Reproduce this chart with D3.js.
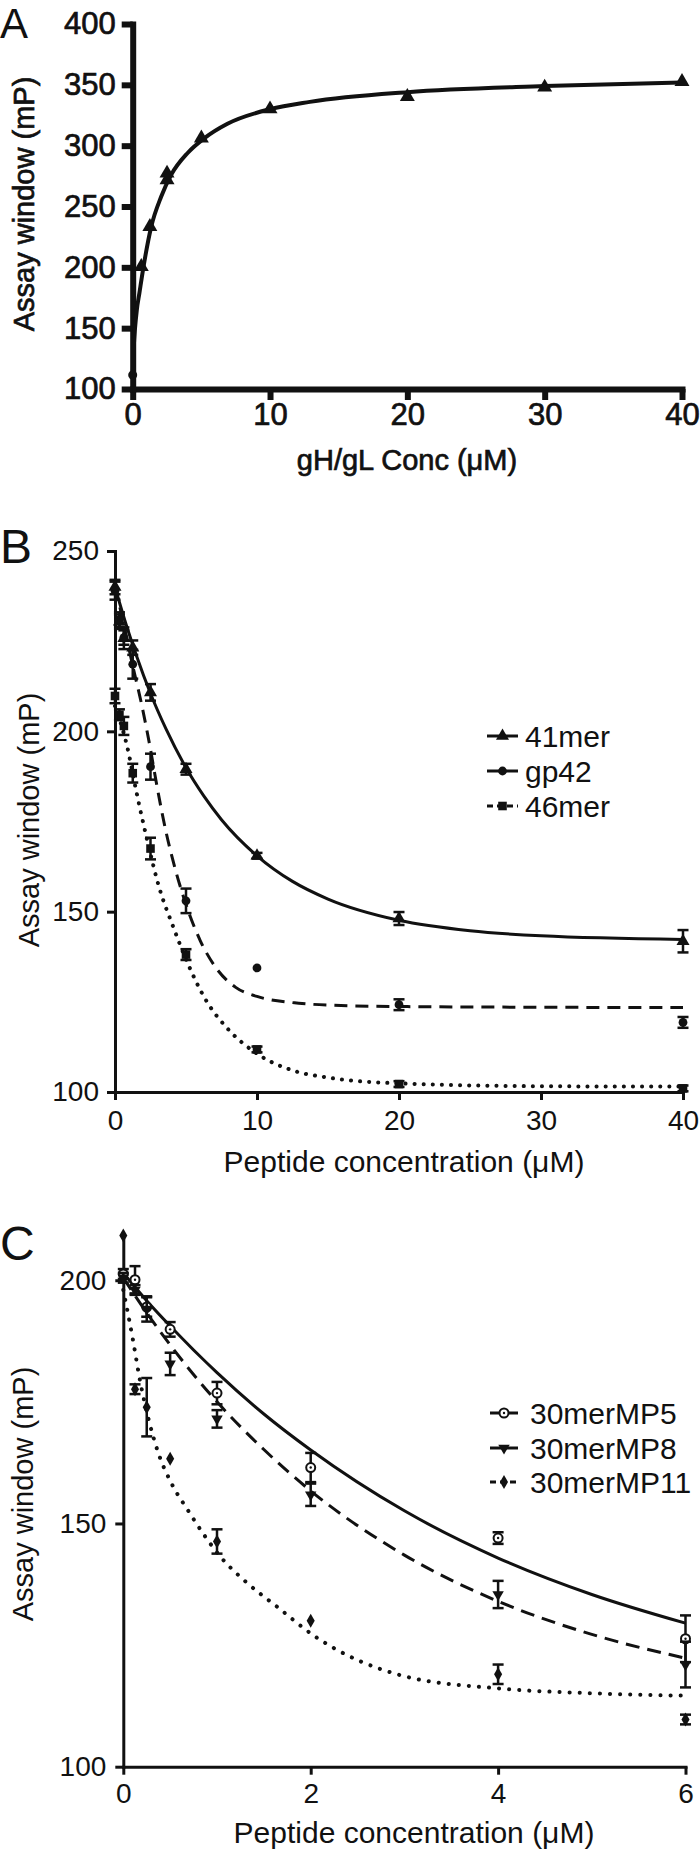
<!DOCTYPE html>
<html>
<head>
<meta charset="utf-8">
<script src="https://cdn.jsdelivr.net/npm/d3@7"></script>
<style>
  body { margin: 0; background: #fff; }
  svg { display: block; font-family: "Liberation Sans", Arial, Helvetica, sans-serif; }
  text { font-family: "Liberation Sans", Arial, Helvetica, sans-serif; fill: #111; }
  .heavy text, text.heavy { stroke: #111; stroke-width: 0.7px; }
</style>
</head>
<body>
<div id="fig"></div>
<script>
// ---- panel A: gH/gL titration ----
var aConc   = [0, 0.625, 1.25, 2.5, 2.5, 5, 10, 20, 30, 40];
var aWindow = [111.5, 200.5, 233.4, 277.3, 271.8, 306.1, 330.1, 340.3, 348, 352.6];
var aFitConc   = [0, 0.08, 0.17, 0.3, 0.49, 0.78, 1.34, 2.07, 2.8, 4, 5.2, 6.9, 10, 12.9, 20, 30, 40];
var aFitWindow = [111.5, 135, 150, 165, 179, 200, 233, 258, 276, 294, 306, 318, 330, 336, 344, 349, 352];
var aYTicks = [100, 150, 200, 250, 300, 350, 400];
var aXTicks = [0, 10, 20, 30, 40];

// ---- panel B: peptide competition ----
var bConc = [0, 0.3125, 0.625, 1.25, 2.5, 5, 10, 20, 40];
var b41mer    = [240, 230.4, 225.8, 223.2, 210.8, 189.5, 165.5, 148.1, 141.8];
var b41merErr = [2, 2, 3, 2, 2.3, 1.5, 0.8, 1.8, 3.1];
var bGp42     = [239, 231, 226, 218.6, 190.2, 153, 134.4, 124.2, 119.3];
var bGp42Err  = [2.5, 2, 2, 4, 3.6, 3.4, 0, 1.5, 1.5];
var b46mer    = [209.8, 204.6, 201.5, 188.4, 167.5, 138.1, 111.8, 102.2, 101];
var b46merErr = [2, 1.5, 2.5, 2.6, 3, 1.5, 0.8, 0.8, 0.8];
var b41FitConc = [0, 0.8, 1.5, 2.5, 3.6, 5, 6.25, 7.5, 10, 12.5, 15, 20, 25, 30, 40];
var b41Fit     = [240, 229.4, 221.1, 210.5, 200.6, 189.9, 182.1, 175.5, 165.5, 158.4, 153.5, 147.6, 144.7, 143.3, 142.3];
var bGp42FitConc = [0, 0.6, 1.2, 1.9, 2.5, 2.9, 3.6, 4.3, 5, 6, 7.1, 8.5, 10, 12.5, 15, 20, 30, 40];
var bGp42Fit     = [240, 230, 219, 207, 195, 186, 172, 161, 152, 142, 134.5, 129, 126.5, 124.8, 124.1, 123.7, 123.5, 123.4];
var b46FitConc = [0, 0.82, 1.52, 2.22, 3.15, 4.09, 5.02, 6.43, 7.83, 9.93, 12.5, 15, 20, 30, 40];
var b46Fit     = [207, 196.4, 183, 170.6, 156.2, 145.9, 136.6, 125.3, 118, 110.8, 106, 104, 102.4, 101.6, 101.5];
var bYTicks = [100, 150, 200, 250];
var bXTicks = [0, 10, 20, 30, 40];
var bNames = ["41mer", "gp42", "46mer"];

// ---- panel C: 30mer mutant peptides ----
var cConc = [0, 0.125, 0.25, 0.5, 1, 2, 4, 6];
var cMP5     = [201.3, 200.1, 194.5, 189.9, 176.8, 161.5, 147.0, 126.3];
var cMP5Err  = [1, 2.8, 2, 1.5, 2.3, 3, 1.2, 4.8];
var cMP8     = [200.5, 198, 194.1, 182.8, 171.5, 155.9, 135.4, 121];
var cMP8Err  = [1, 1, 2.6, 2.3, 1.8, 2.3, 2.8, 4.7];
var cMP11    = [209.2, 177.6, 173.9, 163.3, 146.3, 130, 119, 109.7];
var cMP11Err = [0, 1, 6, 0, 2.5, 0, 2, 1];
var cMP5FitConc = [0, 0.25, 0.5, 1, 1.5, 2, 3, 4, 5, 6];
var cMP5Fit     = [201.5, 195.8, 190.6, 181, 172.5, 165.1, 152.6, 142.9, 135.4, 129.5];
var cMP8FitConc = [0, 0.25, 0.5, 1, 1.5, 2, 3, 4, 5, 6];
var cMP8Fit     = [200.5, 193.3, 186.7, 175, 165.2, 156.7, 143.5, 134, 127.2, 122.3];
var cMP11FitConc = [0, 0.106, 0.176, 0.265, 0.37, 0.51, 0.69, 0.86, 1.04, 1.32, 1.64, 2.03, 3, 4, 5, 6];
var cMP11Fit     = [198, 187.4, 179.6, 171.8, 164.7, 158.4, 152.7, 147.7, 143.1, 137.8, 132.9, 127, 118.6, 116.1, 115.1, 114.6];
var cYTicks = [100, 150, 200];
var cXTicks = [0, 2, 4, 6];
var cNames = ["30merMP5", "30merMP8", "30merMP11"];

var svg = d3.select("#fig").append("svg")
  .attr("width", 700)
  .attr("height", 1852);

function zip(xs, ys) {
  return xs.map(function(v, i) { return [v, ys[i]]; });
}

function styleAxis(g, w, fs) {
  g.attr("font-family", null);
  g.select(".domain").attr("stroke", "#111").attr("stroke-width", w).attr("stroke-linecap", "square");
  g.selectAll(".tick line").attr("stroke", "#111").attr("stroke-width", w);
  g.selectAll(".tick text").attr("fill", "#111").style("font-size", fs + "px");
}

// marker painter
function marker(g, kind, cx, cy, s) {
  if (kind == "circle") {
    g.append("circle").attr("cx", cx).attr("cy", cy).attr("r", s).attr("fill", "#111");
  } else if (kind == "ocircle") {
    g.append("circle").attr("cx", cx).attr("cy", cy).attr("r", s).attr("fill", "#fff")
      .attr("stroke", "#111").attr("stroke-width", 2);
    g.append("circle").attr("cx", cx).attr("cy", cy).attr("r", 1.2).attr("fill", "#111");
  } else {
    var sym = kind == "square" ? d3.symbolSquare : kind == "diamond" ? d3.symbolDiamond : d3.symbolTriangle;
    var rot = kind == "dtri" ? 180 : 0;
    g.append("path")
      .attr("d", d3.symbol().type(sym).size(s * s * 3.2)())
      .attr("transform", "translate(" + cx + "," + cy + ") rotate(" + rot + ")")
      .attr("fill", "#111");
  }
}

function errBars(g, x, y, xs, ys, es, cap, w) {
  xs.forEach(function(v, i) {
    if (!es[i]) return;
    var px = x(v), y1 = y(ys[i] + es[i]), y2 = y(ys[i] - es[i]);
    g.append("line").attr("x1", px).attr("x2", px).attr("y1", y1).attr("y2", y2)
      .attr("stroke", "#111").attr("stroke-width", w);
    [y1, y2].forEach(function(yy) {
      g.append("line").attr("x1", px - cap).attr("x2", px + cap).attr("y1", yy).attr("y2", yy)
        .attr("stroke", "#111").attr("stroke-width", w);
    });
  });
}

var fmt = d3.format("d");

// ================= A =================
var xA = d3.scaleLinear().domain([0, 40]).range([132.7, 682]);
var yA = d3.scaleLinear().domain([100, 400]).range([389, 24]);
var gA = svg.append("g");

gA.append("g").attr("class", "heavy").attr("transform", "translate(0," + yA(100) + ")")
  .call(d3.axisBottom(xA).tickValues(aXTicks).tickFormat(fmt).tickSize(11).tickSizeOuter(0).tickPadding(3))
  .call(styleAxis, 6, 31);
gA.append("g").attr("class", "heavy").attr("transform", "translate(" + xA(0) + ",0)")
  .call(d3.axisLeft(yA).tickValues(aYTicks).tickFormat(fmt).tickSize(11).tickSizeOuter(0).tickPadding(6))
  .call(styleAxis, 6, 31);

gA.append("path")
  .datum(zip(aFitConc, aFitWindow))
  .attr("d", d3.line().x(function(d) { return xA(d[0]); }).y(function(d) { return yA(d[1]); }).curve(d3.curveMonotoneX))
  .attr("fill", "none").attr("stroke", "#111").attr("stroke-width", 4);

aConc.forEach(function(v, i) {
  marker(gA, i == 0 ? "circle" : "tri", xA(v), yA(aWindow[i]), i == 0 ? 4.5 : 5.5);
});

gA.append("text").attr("x", 0).attr("y", 38).style("font-size", "42px").text("A");
gA.append("text").attr("class", "heavy").attr("x", 407).attr("y", 470).attr("text-anchor", "middle")
  .style("font-size", "29px").text("gH/gL Conc (\u03bcM)");
gA.append("text").attr("class", "heavy").attr("transform", "translate(34,204) rotate(-90)").attr("text-anchor", "middle")
  .style("font-size", "29px").text("Assay window (mP)");

// ================= B =================
var xB = d3.scaleLinear().domain([0, 40]).range([115, 683]);
var yB = d3.scaleLinear().domain([100, 250]).range([1092, 551]);
var gB = svg.append("g");

gB.append("g").attr("transform", "translate(0," + yB(100) + ")")
  .call(d3.axisBottom(xB).tickValues(bXTicks).tickFormat(fmt).tickSize(8).tickSizeOuter(0).tickPadding(10))
  .call(styleAxis, 3, 28);
gB.append("g").attr("transform", "translate(" + xB(0) + ",0)")
  .call(d3.axisLeft(yB).tickValues(bYTicks).tickFormat(fmt).tickSize(8).tickSizeOuter(0).tickPadding(8))
  .call(styleAxis, 3, 28);

var lineB = d3.line().x(function(d) { return xB(d[0]); }).y(function(d) { return yB(d[1]); }).curve(d3.curveMonotoneX);
var bSeries = [
  {fx: b41FitConc, fy: b41Fit, ys: b41mer, es: b41merErr, mk: "tri", dash: null},
  {fx: bGp42FitConc, fy: bGp42Fit, ys: bGp42, es: bGp42Err, mk: "circle", dash: "13,8"},
  {fx: b46FitConc, fy: b46Fit, ys: b46mer, es: b46merErr, mk: "square", dash: "0.1,9", dot: true}
];
bSeries.forEach(function(s) {
  gB.append("path").datum(zip(s.fx, s.fy)).attr("d", lineB)
    .attr("fill", "none").attr("stroke", "#111").attr("stroke-width", s.dot ? 4 : 3)
    .attr("stroke-dasharray", s.dash)
    .attr("stroke-linecap", s.dot ? "round" : "butt");
  errBars(gB, xB, yB, bConc, s.ys, s.es, 5.5, 2.5);
  bConc.forEach(function(v, i) { marker(gB, s.mk, xB(v), yB(s.ys[i]), s.mk == "circle" ? 4.4 : 4.8); });
});

// legend B
var legB = [{y: 736, dash: null, mk: "tri"}, {y: 771, dash: null, mk: "circle"}, {y: 806, dash: "6,4", mk: "square"}];
legB.forEach(function(l, i) {
  gB.append("line").attr("x1", 487).attr("x2", 518).attr("y1", l.y).attr("y2", l.y)
    .attr("stroke", "#111").attr("stroke-width", 3).attr("stroke-dasharray", l.dash);
  marker(gB, l.mk, 502.5, l.y, l.mk == "circle" ? 4.4 : 4.8);
  gB.append("text").attr("x", 525).attr("y", l.y + 11).style("font-size", "30px").text(bNames[i]);
});

gB.append("text").attr("x", 0).attr("y", 563).style("font-size", "48px").text("B");
gB.append("text").attr("x", 404).attr("y", 1172).attr("text-anchor", "middle")
  .style("font-size", "30px").text("Peptide concentration (\u03bcM)");
gB.append("text").attr("transform", "translate(39,820) rotate(-90)").attr("text-anchor", "middle")
  .style("font-size", "29px").text("Assay window (mP)");

// ================= C =================
var xC = d3.scaleLinear().domain([0, 6]).range([123.3, 685.5]);
var yC = d3.scaleLinear().domain([100, 209.3]).range([1766.7, 1235]);
var gC = svg.append("g");

gC.append("g").attr("transform", "translate(0," + yC(100) + ")")
  .call(d3.axisBottom(xC).tickValues(cXTicks).tickFormat(fmt).tickSize(8).tickSizeOuter(0).tickPadding(8))
  .call(styleAxis, 3, 28);
gC.append("g").attr("transform", "translate(" + xC(0) + ",0)")
  .call(d3.axisLeft(yC).tickValues(cYTicks).tickFormat(fmt).tickSize(8).tickSizeOuter(0).tickPadding(9))
  .call(styleAxis, 3, 28);

var lineC = d3.line().x(function(d) { return xC(d[0]); }).y(function(d) { return yC(d[1]); }).curve(d3.curveMonotoneX);
var cSeries = [
  {fx: cMP5FitConc, fy: cMP5Fit, ys: cMP5, es: cMP5Err, mk: "ocircle", dash: null},
  {fx: cMP8FitConc, fy: cMP8Fit, ys: cMP8, es: cMP8Err, mk: "dtri", dash: "14,8"},
  {fx: cMP11FitConc, fy: cMP11Fit, ys: cMP11, es: cMP11Err, mk: "diamond", dash: "0.1,10", dot: true}
];
cSeries.forEach(function(s) {
  gC.append("path").datum(zip(s.fx, s.fy)).attr("d", lineC)
    .attr("fill", "none").attr("stroke", "#111").attr("stroke-width", s.dot ? 4 : 3)
    .attr("stroke-dasharray", s.dash)
    .attr("stroke-linecap", s.dot ? "round" : "butt");
  errBars(gC, xC, yC, cConc, s.ys, s.es, 5.5, 2.5);
  cConc.forEach(function(v, i) { marker(gC, s.mk, xC(v), yC(s.ys[i]), s.mk == "ocircle" ? 4.5 : 4.2); });
});

var legC = [{y: 1413, dash: null, mk: "ocircle"}, {y: 1448, dash: null, mk: "dtri"}, {y: 1482, dash: "6,4", mk: "diamond"}];
legC.forEach(function(l, i) {
  gC.append("line").attr("x1", 490).attr("x2", 518).attr("y1", l.y).attr("y2", l.y)
    .attr("stroke", "#111").attr("stroke-width", 3).attr("stroke-dasharray", l.dash);
  marker(gC, l.mk, 504, l.y, l.mk == "ocircle" ? 4.5 : 4.2);
  gC.append("text").attr("x", 530).attr("y", l.y + 11).style("font-size", "30px").text(cNames[i]);
});

gC.append("text").attr("x", 0).attr("y", 1260).style("font-size", "48px").text("C");
gC.append("text").attr("x", 414).attr("y", 1843).attr("text-anchor", "middle")
  .style("font-size", "30px").text("Peptide concentration (\u03bcM)");
gC.append("text").attr("transform", "translate(33,1494) rotate(-90)").attr("text-anchor", "middle")
  .style("font-size", "29px").text("Assay window (mP)");
</script>
</body>
</html>
